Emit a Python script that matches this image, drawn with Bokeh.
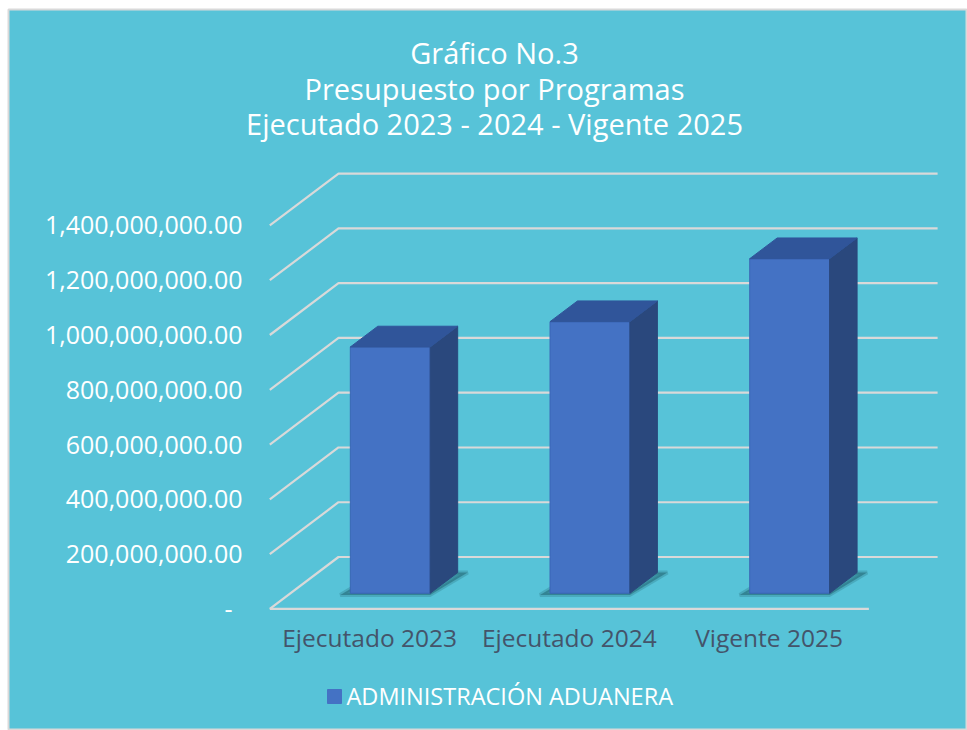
from bokeh.plotting import figure
from bokeh.models import Range1d
from bokeh.core.properties import value
from bokeh.embed import file_html
from bokeh.resources import INLINE

# ---------------- data ----------------
categories = ["Ejecutado 2023", "Ejecutado 2024", "Vigente 2025"]
values = [899_600_000, 992_000_000, 1_222_000_000]
series_name = "ADMINISTRACIÓN ADUANERA"
tick_values = [0, 200_000_000, 400_000_000, 600_000_000, 800_000_000,
               1_000_000_000, 1_200_000_000, 1_400_000_000]
tick_labels = ["-", "200,000,000.00", "400,000,000.00", "600,000,000.00",
               "800,000,000.00", "1,000,000,000.00", "1,200,000,000.00",
               "1,400,000,000.00"]
title_lines = ["Gráfico No.3", "Presupuesto por Programas",
               "Ejecutado 2023 - 2024 - Vigente 2025"]

# ---------------- layout constants ----------------
W, H = 967, 730
FL, FT = 8, 9                 # chart box offset inside the figure
PX0, SLOT = 269.3, 199.7      # x of slot 0, pixels per category slot
PY0, PXV = 608.3, 54.76 / 200e6  # y of value 0, pixels per unit value
DEPTH_PX_X, DEPTH_PX_Y = 68.7, 51.8
F0, F1 = 0.30, 0.70           # bar front/back depth fractions
BAR_W = 0.40                  # bar width in slots

BG = "#57C3D8"
GRID = "#D9D9D9"
FRONT, TOP, SIDE = "#4472C4", "#30559A", "#2A487D"
FONT = value("Open Sans")


def fx(px):
    return (px - PX0) / SLOT


def fy(py):
    return (PY0 - py) / PXV


DX = DEPTH_PX_X / SLOT
DY = DEPTH_PX_Y / PXV

p = figure(width=W, height=H, output_backend="svg", toolbar_location=None,
           x_range=Range1d(fx(FL), fx(W)),
           y_range=Range1d(fy(H), fy(FT)),
           min_border_left=FL, min_border_top=FT,
           min_border_right=0, min_border_bottom=0)
p.axis.visible = False
p.grid.visible = False
p.background_fill_color = BG
p.border_fill_color = "white"
p.outline_line_color = GRID
p.outline_line_width = 2

# ---------------- grid (walls / floor) ----------------
ncat = len(categories)
xs, ys = [], []
for t in tick_values:
    xs.append([0, DX, ncat + DX])
    ys.append([t, t + DY, t + DY])
xs.append([0, ncat])
ys.append([0, 0])
p.multi_line(xs, ys, line_color=GRID, line_width=2.2)

# ---------------- bars ----------------
sh_x, sh_y = [], []
fr_x, fr_y, sd_x, sd_y, tp_x, tp_y = [], [], [], [], [], []
for i, v in enumerate(values):
    c = i + 0.5
    l, r = c - BAR_W / 2, c + BAR_W / 2
    x0, x1 = F0 * DX, F1 * DX
    y0, y1 = F0 * DY, F1 * DY
    e = 0.05
    sh_x.append([l + x0 - e, r + x0, r + x1 + e, l + x1])
    sh_y.append([y0 - 6e6, y0 - 6e6, y1, y1])
    fr_x.append([l + x0, r + x0, r + x0, l + x0])
    fr_y.append([y0, y0, v + y0, v + y0])
    sd_x.append([r + x0, r + x1, r + x1, r + x0])
    sd_y.append([y0, y1, v + y1, v + y0])
    tp_x.append([l + x0, r + x0, r + x1, l + x1])
    tp_y.append([v + y0, v + y0, v + y1, v + y1])

p.patches(sh_x, sh_y, fill_color="#1E5E6B", fill_alpha=0.5, line_color="#1E5E6B",
          line_alpha=0.25, line_width=4)
p.patches(fr_x, fr_y, fill_color=FRONT, line_color="#3A66B5", line_width=1)
p.patches(sd_x, sd_y, fill_color=SIDE, line_color=SIDE, line_width=1)
p.patches(tp_x, tp_y, fill_color=TOP, line_color=TOP, line_width=1)

# ---------------- value axis labels ----------------
offs = [-10 if t == 0 else 0 for t in tick_values]
p.text(x=[fx(242)] * len(tick_values), y=tick_values, text=tick_labels,
       x_offset=offs, text_font=FONT, text_font_size="25px",
       text_color="white", text_align="right", text_baseline="middle")

# ---------------- category labels ----------------
p.text(x=[i + 0.5 for i in range(ncat)], y=[fy(637)] * ncat, text=categories,
       text_font=FONT, text_font_size="24.5px", text_color="#44546A",
       text_align="center", text_baseline="middle")

# ---------------- title ----------------
p.text(x=[fx(494)] * 3, y=[fy(52), fy(88), fy(123)], text=title_lines,
       text_font=FONT, text_font_size="29px", text_color="white",
       text_align="center", text_baseline="middle")

# ---------------- legend ----------------
p.scatter(x=[fx(334)], y=[fy(696)], marker="square", size=14,
          fill_color=FRONT, line_color=FRONT)
p.text(x=[fx(346)], y=[fy(695)], text=[series_name], text_font=FONT,
       text_font_size="23.5px", text_color="white", text_align="left",
       text_baseline="middle")

open("out.html", "w").write(file_html(p, INLINE))
